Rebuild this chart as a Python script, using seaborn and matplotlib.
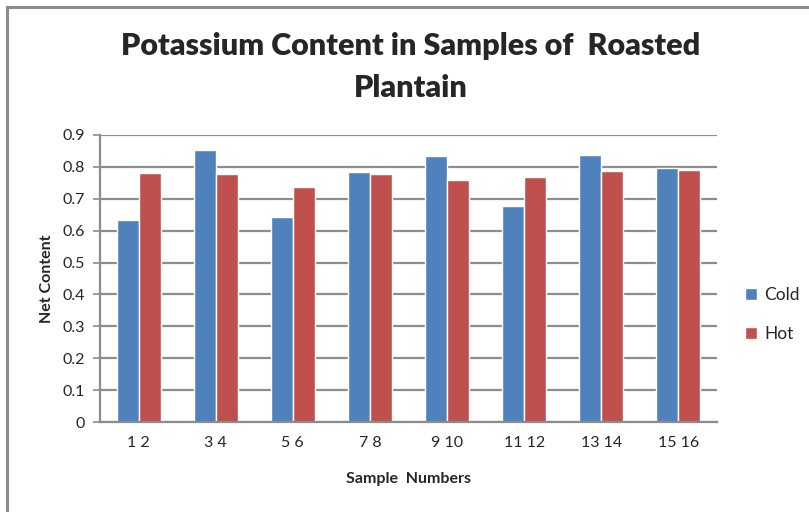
#!/usr/bin/env python3
"""Potassium content in roasted plantain samples, cold vs hot."""

import matplotlib

matplotlib.use("Agg")

import matplotlib.pyplot as plt
import matplotlib.patches as mpatches
import pandas as pd
import seaborn as sns

# Data
samples = ["1 2", "3 4", "5 6", "7 8", "9 10", "11 12", "13 14", "15 16"]
cold = [0.632, 0.853, 0.643, 0.783, 0.835, 0.676, 0.838, 0.795]
hot = [0.780, 0.778, 0.738, 0.778, 0.759, 0.767, 0.786, 0.791]

BLUE = "#4F81BD"
RED = "#C0504D"
GRID = "#8C8C8C"
FONT = "Lato"

df = pd.DataFrame({"sample": samples * 2,
                   "value": cold + hot,
                   "kind": ["Cold"] * len(samples) + ["Hot"] * len(samples)})

sns.set_theme(style="white")
plt.rcParams["font.family"] = [FONT, "DejaVu Sans"]

fig = plt.figure(figsize=(8.09, 5.12), dpi=100)
ax = fig.add_axes([100 / 809, 1 - 422 / 512, 617 / 809, 287 / 512])

sns.barplot(data=df, x="sample", y="value", hue="kind",
            palette={"Cold": BLUE, "Hot": RED}, width=0.57,
            saturation=1, ax=ax, legend=True)

ax.set_ylim(0, 0.9)
ax.set_xlim(-0.5, len(samples) - 0.5)
ax.set_yticks([i / 10 for i in range(10)])
ax.set_yticklabels(["0"] + [f"0.{i}" for i in range(1, 10)], fontsize=11.5)
ax.yaxis.grid(True, color=GRID, linewidth=1.6)
ax.set_axisbelow(True)

# ticks at category boundaries on x, none at labels
ax.set_xticks(range(len(samples)))
ax.set_xticklabels(samples, fontsize=11.5)
ax.set_xticks([i - 0.5 for i in range(len(samples) + 1)], minor=True)
ax.tick_params(axis="x", which="major", length=0, pad=10)
ax.tick_params(axis="x", which="minor", length=5, width=1.2, color=GRID,
               direction="out")
ax.tick_params(axis="y", length=5, width=1.2, color=GRID, direction="out",
               pad=6, left=True)

for side in ["top", "right"]:
    ax.spines[side].set_visible(False)
for side in ["left", "bottom"]:
    ax.spines[side].set_color(GRID)
    ax.spines[side].set_linewidth(1.6)

ax.set_xlabel("Sample  Numbers", fontsize=11.5, fontweight="bold", labelpad=16)
ax.set_ylabel("Net Content", fontsize=11.5, fontweight="bold", labelpad=6)

leg = ax.legend(loc="center left", bbox_to_anchor=(1.02, 0.375), frameon=False,
                fontsize=12.5, handlelength=0.7, handleheight=0.7,
                handletextpad=0.4, labelspacing=1.3)

fig.text(411 / 809, 1 - 67 / 512,
         "Potassium Content in Samples of  Roasted\nPlantain",
         ha="center", va="center", fontsize=22, fontweight="heavy",
         linespacing=1.6)

# chart frame
fig.patches.append(mpatches.Rectangle((7 / 809, -0.1), 1.2, 1.1 - 7 / 512,
                                      transform=fig.transFigure, fill=False,
                                      edgecolor="#8C8C8C", linewidth=2.2))

fig.savefig("out.png", dpi=100)
